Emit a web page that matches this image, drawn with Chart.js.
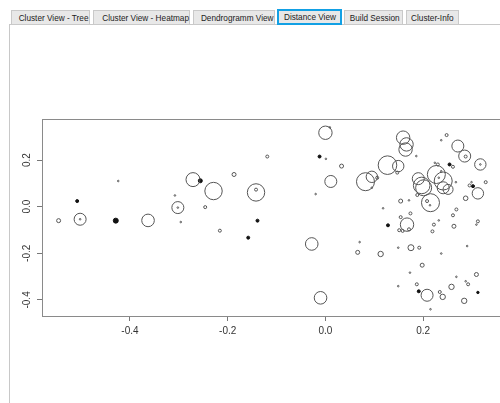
<!DOCTYPE html>
<html lang="de">
<head>
<meta charset="UTF-8">
<title>Distance View</title>
<script src="https://cdn.jsdelivr.net/npm/chart.js"></script>
<style>
  body {
    margin: 0;
    width: 500px;
    height: 403px;
    overflow: hidden;
    background: #fff;
    font-family: "Liberation Sans", Arial, sans-serif;
    position: relative;
  }
  .tab {
    position: absolute;
    top: 10px;
    height: 13px;
    line-height: 13px;
    border: 1px solid #c9c9c9;
    background: #e8e8e8;
    color: #222;
    font-size: 9.8px;
    text-align: center;
    white-space: nowrap;
    overflow: visible;
  }
  .tab span {
    display: inline-block;
    transform: scaleX(0.84);
    transform-origin: center;
  }
  .tab.active {
    top: 9px;
    height: 12px;
    border: 2px solid #12a0e4;
    line-height: 12px;
  }
  #panel {
    position: absolute;
    left: 9px;
    top: 24px;
    width: 600px;
    height: 400px;
    border-left: 1px solid #c8c8c8;
    border-top: 1px solid #c8c8c8;
  }
  #wrap {
    position: absolute;
    left: 10px;
    top: 25px;
    width: 520px;
    height: 378px;
  }
</style>
</head>
<body>
  <div id="panel"></div>
  <div class="tab" style="left:11px;width:77px"><span>Cluster View - Tree</span></div>
  <div class="tab" style="left:93px;width:95px"><span>Cluster View - Heatmap</span></div>
  <div class="tab" style="left:193px;width:80px"><span>Dendrogramm View</span></div>
  <div class="tab active" style="left:277px;width:61px"><span>Distance View</span></div>
  <div class="tab" style="left:344px;width:57px"><span>Build Session</span></div>
  <div class="tab" style="left:406px;width:51px"><span>Cluster-Info</span></div>

  <div id="wrap"><canvas id="dist"></canvas></div>

<script>
// circles (open)
const ringX = [-0.546, -0.502, -0.502, -0.424, -0.363, -0.302, -0.302, -0.308, -0.296, -0.271,
  -0.187, -0.229, -0.142, -0.142, -0.119, -0.246, -0.216, 0, 0.009, 0.001,
  -0.020, -0.028, -0.010, 0.033, 0.011, 0.082, 0.095, 0.106, 0.095, 0.127,
  0.149, 0.147, 0.159, 0.166, 0.164, 0.186, 0.154, 0.171, 0.118, 0.174,
  0.154, 0.167, 0.151, 0.158, 0.171, 0.070, 0.066, 0.113, 0.149, 0.175,
  0.192, 0.173, 0.187, 0.149, 0.248, 0.237, 0.271, 0.285, 0.287, 0.317,
  0.317, 0.224, 0.230, 0.261, 0.227, 0.241, 0.190, 0.197, 0.201, 0.232,
  0.237, 0.267, 0.299, 0.295, 0.328, 0.312, 0.241, 0.251, 0.215, 0.208,
  0.214, 0.188, 0.287, 0.268, 0.261, 0.222, 0.232, 0.219, 0.263, 0.312,
  0.309, 0.237, 0.290, 0.198, 0.309, 0.268, 0.287, 0.292, 0.258, 0.234,
  0.240, 0.208, 0.284, 0.215];
const ringY = [-0.060, -0.054, -0.054, 0.110, -0.059, -0.004, -0.004, 0.048, -0.066, 0.116,
  0.138, 0.067, 0.061, 0.073, 0.215, -0.002, -0.103, 0.317, 0.340, 0.205,
  0.054, -0.160, -0.391, 0.174, 0.108, 0.107, 0.128, 0.124, 0.081, 0.178,
  0.174, 0.146, 0.296, 0.267, 0.245, 0.217, 0.024, 0.027, -0.007, -0.029,
  -0.045, -0.077, -0.101, -0.104, -0.097, -0.152, -0.196, -0.203, -0.176, -0.176,
  -0.176, -0.283, -0.333, -0.341, 0.307, 0.285, 0.260, 0.217, 0.215, 0.181,
  0.181, 0.188, 0.181, 0.171, 0.138, 0.110, 0.120, 0.091, 0.081, 0.124,
  0.152, 0.105, 0.105, 0.091, 0.105, 0.057, 0.081, 0.074, 0.017, 0.024,
  0.006, 0.050, 0.036, -0.012, -0.037, -0.077, -0.059, -0.106, -0.084, -0.063,
  -0.077, -0.201, -0.169, -0.251, -0.291, -0.301, -0.320, -0.333, -0.344, -0.366,
  -0.387, -0.380, -0.404, -0.440];
const ringSize = [2, 6, 0.8, 0.8, 6.3, 6, 0.8, 0.8, 0.8, 7,
  2, 8.7, 8.7, 1.5, 1.5, 1.5, 1.5, 6.7, 0.8, 0.8,
  0.8, 6.3, 6.3, 2, 6, 9, 5.7, 1.5, 0.8, 9.3,
  5.7, 1.5, 6.7, 6.7, 6.7, 0.8, 2, 0.8, 0.8, 1.5,
  1.5, 6.7, 1.5, 1.5, 1.5, 0.8, 2, 2.7, 0.8, 3,
  1.5, 0.8, 1.5, 0.8, 1.5, 0.8, 6, 6, 1.5, 5.7,
  0.8, 0.8, 1.5, 1.5, 9, 9, 6, 8.3, 8, 0.8,
  0.8, 0.8, 0.8, 1.5, 1.5, 5.7, 6, 5, 9, 1.5,
  0.8, 1.5, 2.3, 1.5, 1.5, 1.5, 0.8, 1.5, 2, 1.5,
  0.8, 0.8, 0.8, 2, 2, 0.8, 0.8, 1.5, 2.7, 1.5,
  2.7, 6, 2.7, 0.8];

// filled dots
const dotX = [-0.508, -0.429, -0.256, -0.158, -0.139, -0.012, 0.128, 0.191, 0.254, 0.302, 0.312];
const dotY = [0.024, -0.060, 0.111, -0.133, -0.060, 0.215, -0.080, -0.363, 0.181, 0.088, -0.368];
const dotSize = [1.5, 2.5, 2, 1.5, 1.5, 1.5, 1.5, 1.5, 1.5, 1.5, 1.2];

const xTicks = [-0.4, -0.2, 0.0, 0.2];
const yTicks = [-0.4, -0.2, 0.0, 0.2];

function pts(xs, ys, rs) {
  return xs.map((x, i) => ({ x: x, y: ys[i], r: rs[i] }));
}

const boxPlugin = {
  id: 'box',
  afterDraw(chart) {
    const a = chart.chartArea;
    const c = chart.ctx;
    c.save();
    c.strokeStyle = '#8a8a8a';
    c.lineWidth = 1;
    c.strokeRect(Math.round(a.left) + 0.5, Math.round(a.top) + 0.5,
      Math.round(a.right - a.left), Math.round(a.bottom - a.top));
    c.restore();
  }
};

const ctx = document.getElementById('dist').getContext('2d');
new Chart(ctx, {
  type: 'bubble',
  data: {
    datasets: [{
      data: pts(ringX, ringY, ringSize),
      borderColor: '#555',
      backgroundColor: 'rgba(0,0,0,0)',
      borderWidth: 1,
      clip: false
    }, {
      data: pts(dotX, dotY, dotSize),
      borderColor: '#111',
      backgroundColor: '#111',
      borderWidth: 1,
      clip: false
    }]
  },
  options: {
    responsive: true,
    maintainAspectRatio: false,
    animation: false,
    events: [],
    layout: { padding: { left: 12, top: 94, right: 14, bottom: 65 } },
    plugins: { legend: { display: false }, tooltip: { enabled: false } },
    scales: {
      x: {
        type: 'linear',
        min: -0.58,
        max: 0.39,
        afterBuildTicks: (s) => { s.ticks = xTicks.map(v => ({ value: v })); },
        afterFit: (s) => { s.height = 22; },
        grid: { drawOnChartArea: false, drawTicks: true, tickLength: 5, color: '#777' },
        border: { display: false },
        ticks: {
          padding: 4,
          color: '#333',
          font: { family: 'Liberation Sans', size: 10 },
          callback: (v) => v.toFixed(1),
          maxRotation: 0
        }
      },
      y: {
        type: 'linear',
        min: -0.469,
        max: 0.376,
        afterBuildTicks: (s) => { s.ticks = yTicks.map(v => ({ value: v })); },
        afterFit: (s) => { s.width = 20; },
        grid: { drawOnChartArea: false, drawTicks: true, tickLength: 5, color: '#777' },
        border: { display: false },
        ticks: {
          padding: 1,
          minRotation: 90,
          maxRotation: 90,
          crossAlign: 'center',
          color: '#333',
          font: { family: 'Liberation Sans', size: 10 },
          callback: (v) => v.toFixed(1)
        }
      }
    }
  },
  plugins: [boxPlugin]
});
</script>
</body>
</html>
